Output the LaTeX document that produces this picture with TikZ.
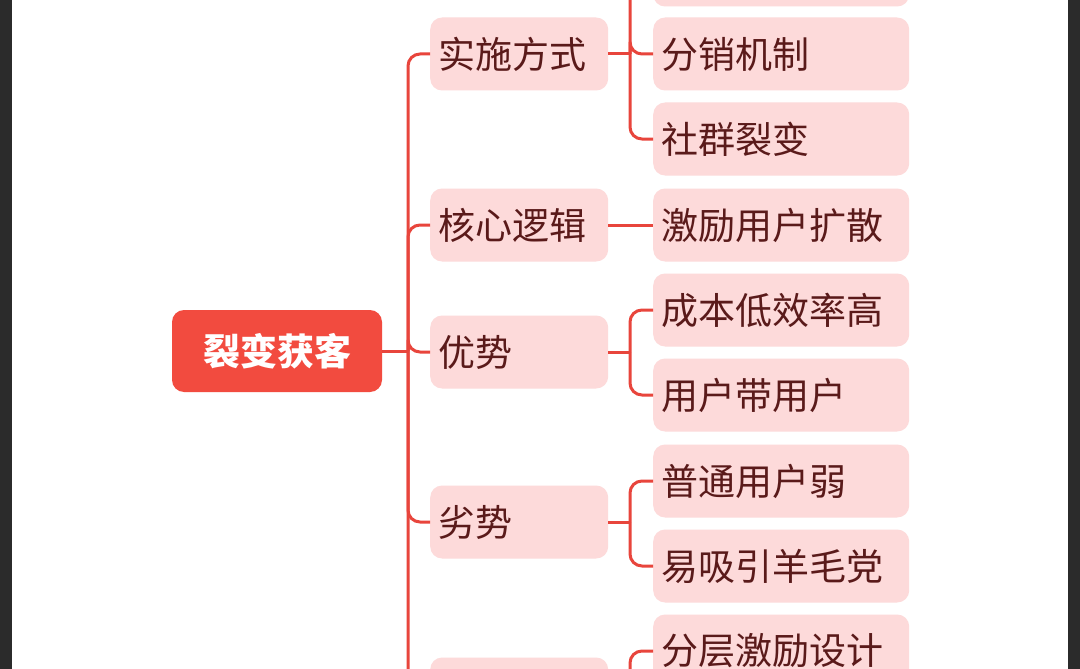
\documentclass[tikz,border=0pt]{standalone}
\usepackage{fontspec}
\setmainfont{Noto Sans CJK SC}
\begin{document}
\begin{tikzpicture}[x=1pt,y=-1pt,
  conn/.style={draw=lineR,line width=3pt,rounded corners=12pt},
  lone/.style={fill=boxP,rounded corners=12pt,anchor=west,minimum height=73pt,text width=162pt,inner sep=8pt,align=left,text=txtR,font=\fontsize{37}{42}\selectfont},
  ltwo/.style={lone,text width=240pt},
]
\definecolor{lineR}{HTML}{E8453C}
\definecolor{boxP}{HTML}{FDDADA}
\definecolor{txtR}{HTML}{5A1A1A}
\definecolor{rootR}{HTML}{F24B3F}
\definecolor{edge}{HTML}{2B2B2B}
\useasboundingbox (0,0) rectangle (1080,669);
\clip (0,0) rectangle (1080,669);
\fill[white] (0,0) rectangle (1080,669);
\node[fill=rootR,rounded corners=12pt,minimum width=210pt,minimum height=82pt,text=white,font=\fontsize{37}{42}\selectfont\bfseries] (root) at (277,351) {裂变获客};
\node[lone] (a1) at (430,54) {实施方式};
\node[lone] (a2) at (430,225) {核心逻辑};
\node[lone] (a3) at (430,352) {优势};
\node[lone] (a4) at (430,522) {劣势};
\node[lone] (a5) at (430,694) {};
\node[ltwo] (b0) at (653,-30) {};
\node[ltwo] (b1) at (653,54) {分销机制};
\node[ltwo] (b2) at (653,139) {社群裂变};
\node[ltwo] (b3) at (653,225) {激励用户扩散};
\node[ltwo] (b4) at (653,310) {成本低效率高};
\node[ltwo] (b5) at (653,395) {用户带用户};
\node[ltwo] (b6) at (653,481) {普通用户弱};
\node[ltwo] (b7) at (653,566) {易吸引羊毛党};
\node[ltwo] (b8) at (653,651) {分层激励设计};
\coordinate (tr) at (408,351);
\coordinate (j1) at (630,54);
\coordinate (j3) at (630,352);
\coordinate (j4) at (630,522);
\coordinate (j5) at (630,694);
\draw[conn] (root.east) -- (tr);
\foreach \n in {a1,a2,a3,a4,a5}{\draw[conn] (tr) |- (\n.west);}
\draw[conn] (a1.east) -- (j1);
\foreach \n in {b0,b1,b2}{\draw[conn] (j1) |- (\n.west);}
\draw[conn] (a2.east) -- (b3.west);
\draw[conn] (a3.east) -- (j3);
\foreach \n in {b4,b5}{\draw[conn] (j3) |- (\n.west);}
\draw[conn] (a4.east) -- (j4);
\foreach \n in {b6,b7}{\draw[conn] (j4) |- (\n.west);}
\draw[conn] (a5.east) -- (j5) |- (b8.west);
\fill[edge] (0,0) rectangle (12,669);
\fill[edge] (1068,0) rectangle (1080,669);
\end{tikzpicture}
\end{document}
